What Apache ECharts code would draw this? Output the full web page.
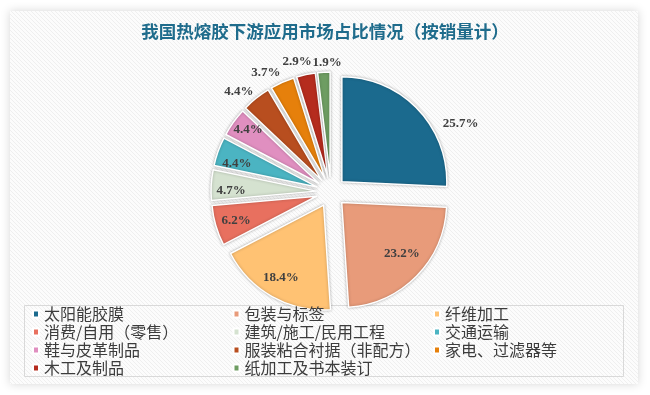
<!DOCTYPE html>
<html><head><meta charset="utf-8">
<script src="https://cdn.jsdelivr.net/npm/echarts@6/dist/echarts.min.js"></script>
<style>html,body{margin:0;padding:0;background:#fff}#c{width:650px;height:395px}</style>
</head><body><div id="c"></div>
<script>
const titleText = '我国热熔胶下游应用市场占比情况（按销量计）';
const categories = ['太阳能胶膜','包装与标签','纤维加工','消费/自用（零售）','建筑/施工/民用工程','交通运输','鞋与皮革制品','服装粘合衬据（非配方）','家电、过滤器等','木工及制品','纸加工及书本装订'];
const shares = [25.7,23.2,18.4,6.2,4.7,4.4,4.4,4.4,3.7,2.9,1.9];

// styling (not data)
const colors = ['#1B6A8E','#E89B7A','#FFC273','#E8705F','#D5E2D0','#4BB4C2','#E08FC0','#B84E1F','#E6800B','#B52C1E','#6E9D62'];
const labelGroup = ['out','in','in','in','in','in','in','far','far','far','far'];
// small label nudges (dx, dy) to mimic the original "best fit" placement
const labelNudge = [[0,15],[-2,-10],[0,-3],[3,0],[2,5],[2,6],[0,-3],[-9,4],[-11,3],[-6,0],[4,4]];

const tile = document.createElement('canvas');
tile.width = 4; tile.height = 4;
const g = tile.getContext('2d');
g.fillStyle = '#fcfcfc'; g.fillRect(0,0,4,4);
g.fillStyle = '#efefef';
for (let i = 0; i < 4; i++) g.fillRect(i, i, 1, 1);

const R = 105, CX = 331, CY = 192, OFF = 15;
const labelFont = {color:'#404040', fontFamily:'Liberation Serif', fontWeight:'bold', fontSize:13};

function items(group, visible) {
  return categories.map((n, i) => ({
    name: n, value: shares[i], selected: true,
    itemStyle: visible ? {color: colors[i]} : {color:'rgba(0,0,0,0)'},
    label: {show: labelGroup[i] === group}
  }));
}
const fmt = p => p.value.toFixed(1) + '%';
const nudge = p => ({dx: labelNudge[p.dataIndex][0], dy: labelNudge[p.dataIndex][1], hideOverlap:false});

const chart = echarts.init(document.getElementById('c'), null, {renderer:'canvas'});
chart.setOption({
  animation: false,
  backgroundColor: '#ffffff',
  graphic: [
    {type:'rect', z:-10, shape:{x:10,y:11,width:628,height:373},
     style:{fill:{image:tile, repeat:'repeat'}, shadowBlur:10, shadowColor:'rgba(0,0,0,0.16)'}},
    {type:'rect', z:-9, shape:{x:24.5,y:305.5,width:599,height:71},
     style:{fill:'none', stroke:'#d9d9d9', lineWidth:1}}
  ],
  title: {
    text: titleText, left:'center', top:22, padding:0,
    textStyle:{fontSize:17.5, fontWeight:'bold', color:'#1F6C8C', fontFamily:'Noto Sans CJK SC', lineHeight:18}
  },
  legend: {
    data: categories, left:32, top:305, width:615, orient:'horizontal', padding:0,
    itemGap:0, itemWidth:6, itemHeight:7, icon:'rect', selectedMode:false,
    textStyle:{fontFamily:'Noto Sans CJK SC', fontSize:16, color:'#3c3c3c', width:188.5, lineHeight:18}
  },
  series: [
    {
      type:'pie', center:[CX,CY], radius:R, startAngle:90, clockwise:true,
      selectedMode:'multiple', selectedOffset:OFF, avoidLabelOverlap:false,
      itemStyle:{borderColor:'#ffffff', borderWidth:1.5, shadowBlur:3, shadowColor:'rgba(0,0,0,0.28)'},
      label:{position:'outside', formatter:fmt, ...labelFont},
      labelLine:{show:false, length:0, length2:20},
      labelLayout: nudge,
      emphasis:{disabled:true},
      data: items('out', true)
    },
    {
      type:'pie', center:[CX,CY], radius:R*1.6, startAngle:90, clockwise:true, silent:true,
      selectedMode:'multiple', selectedOffset:OFF, avoidLabelOverlap:false,
      itemStyle:{borderWidth:0}, label:{position:'inside', formatter:fmt, ...labelFont},
      labelLine:{show:false}, labelLayout: nudge, emphasis:{disabled:true},
      data: items('in', false)
    },
    {
      type:'pie', center:[CX,CY], radius:R*2.2, startAngle:90, clockwise:true, silent:true,
      selectedMode:'multiple', selectedOffset:OFF, avoidLabelOverlap:false,
      itemStyle:{borderWidth:0}, label:{position:'inside', formatter:fmt, ...labelFont},
      labelLine:{show:false}, labelLayout: nudge, emphasis:{disabled:true},
      data: items('far', false)
    }
  ]
});
</script></body></html>
